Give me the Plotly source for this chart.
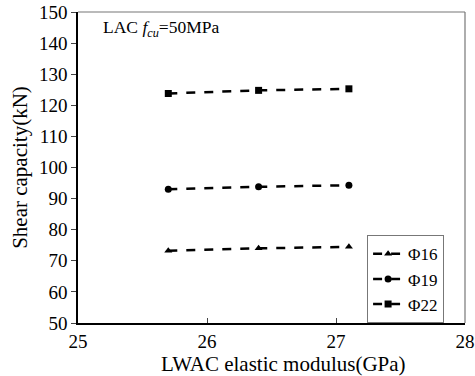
import plotly.graph_objects as go

x_modulus = [25.7, 26.4, 27.1]
phi16 = [73.2, 74.0, 74.5]
phi19 = [93.0, 93.8, 94.3]
phi22 = [123.8, 124.8, 125.3]
series_names = ["Φ16", "Φ19", "Φ22"]
markers = ["triangle-up", "circle", "square"]

fam = "Times New Roman, Liberation Serif, serif"

fig = go.Figure()
for name, ys, sym in zip(series_names, [phi16, phi19, phi22], markers):
    fig.add_trace(go.Scatter(
        x=x_modulus, y=ys, name=name, mode="lines+markers",
        line=dict(color="black", width=2.5, dash="dash"),
        marker=dict(symbol=sym, size=7, color="black"),
    ))

fig.update_layout(
    width=475, height=376,
    margin=dict(l=78, r=10, t=12, b=53, autoexpand=False),
    paper_bgcolor="white", plot_bgcolor="white",
    font=dict(family=fam, size=19, color="black"),
    showlegend=True,
    legend=dict(x=0.747, y=0.282, xanchor="left", yanchor="top",
                bordercolor="#777", borderwidth=1, bgcolor="white",
                font=dict(family=fam, size=17),
                tracegroupgap=0, itemwidth=30),
    xaxis=dict(range=[25, 28], dtick=1, ticks="inside", ticklen=5,
               showline=True, linecolor="black", linewidth=1.5, mirror=False,
               showgrid=False, zeroline=False, tickfont=dict(family=fam, size=19)),
    yaxis=dict(range=[50, 150], dtick=10, ticks="outside", ticklen=5,
               showline=True, linecolor="black", linewidth=1.5,
               showgrid=False, zeroline=False, tickfont=dict(family=fam, size=19),
               title=dict(text="Shear capacity(kN)", standoff=6,
                          font=dict(family=fam, size=21))),
)
fig.add_shape(type="line", xref="paper", yref="paper", x0=0, x1=1, y0=1, y1=1,
              line=dict(color="#777", width=1.2))
fig.add_shape(type="line", xref="paper", yref="paper", x0=1, x1=1, y0=0, y1=1,
              line=dict(color="#777", width=1.2))
fig.add_annotation(xref="paper", yref="paper", x=0.53, y=0, xanchor="center", yanchor="top",
                   yshift=-27, text="LWAC elastic modulus(GPa)", showarrow=False,
                   font=dict(family=fam, size=21, color="black"))
fig.add_annotation(xref="paper", yref="paper", x=0.06, y=0.99, xanchor="left", yanchor="top",
                   text="LAC <i>f</i><sub><i>cu</i></sub>=50MPa", showarrow=False,
                   font=dict(family=fam, size=17.5, color="black"))
fig.write_html("out.html")
